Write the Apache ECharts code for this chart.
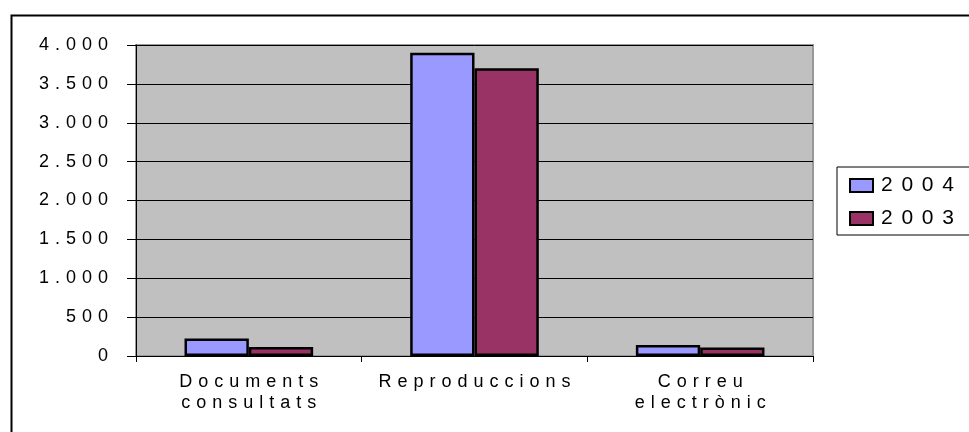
<!DOCTYPE html>
<html>
<head>
<meta charset="utf-8">
<script src="https://cdn.jsdelivr.net/npm/echarts@6/dist/echarts.min.js"></script>
<style>
html,body{margin:0;padding:0;background:#fff;}
#chart{width:969px;height:432px;}
</style>
</head>
<body>
<div id="chart"></div>
<script>
var categories = ['Documents\nconsultats', 'Reproduccions', 'Correu\nelectrònic'];
var seriesNames = ['2004', '2003'];
var values2004 = [225, 3900, 140];
var values2003 = [115, 3700, 110];
var yTickLabels = ['0', '500', '1.000', '1.500', '2.000', '2.500', '3.000', '3.500', '4.000'];

var FONT = '"Liberation Sans", Arial, sans-serif';
function spaced(s, sp) {
  return s.split('\n').map(function (line) { return line.split('').join(sp); }).join('\n');
}
var CAT_SP = '\u2004', TICK_SP = '\u2004', LEG_SP = '\u2005\u2006';

var chart = echarts.init(document.getElementById('chart'), null, {renderer: 'canvas'});
chart.setOption({
  animation: false,
  backgroundColor: '#ffffff',
  textStyle: {fontFamily: FONT, color: '#000'},
  graphic: [{
    type: 'rect', left: 9, top: 13, silent: true,
    shape: {width: 1000, height: 500},
    style: {fill: 'none', stroke: '#000', lineWidth: 2}
  }],
  grid: {
    left: 136, right: 156, top: 45, bottom: 76,
    show: true, backgroundColor: '#C0C0C0', borderColor: '#999999', borderWidth: 2
  },
  legend: {
    data: seriesNames,
    orient: 'vertical',
    left: 837, top: 167,
    padding: [8, 40, 6, 12],
    itemWidth: 23, itemHeight: 13, itemGap: 12,
    borderColor: '#000', borderWidth: 1, backgroundColor: '#fff',
    icon: 'rect',
    formatter: function (n) { return spaced(n, LEG_SP); },
    textStyle: {fontFamily: FONT, fontSize: 21, lineHeight: 20, color: '#000', padding: [0, 0, 0, 3]}
  },
  xAxis: {
    type: 'category',
    data: categories,
    axisLine: {lineStyle: {color: '#000', width: 1}},
    axisTick: {show: true, length: 6, lineStyle: {color: '#000'}},
    axisLabel: {
      interval: 0, margin: 16, fontFamily: FONT, fontSize: 18, lineHeight: 21, color: '#000',
      formatter: function (v) { return spaced(v, CAT_SP); }
    }
  },
  yAxis: {
    type: 'value', min: 0, max: 4000, interval: 500,
    axisLine: {show: true, lineStyle: {color: '#000', width: 1}},
    axisTick: {show: true, length: 9, lineStyle: {color: '#000'}},
    splitLine: {show: true, lineStyle: {color: '#000', width: 1}},
    axisLabel: {
      margin: 28, fontFamily: FONT, fontSize: 18, color: '#000',
      formatter: function (v) { return spaced(yTickLabels[Math.round(v / 500)], TICK_SP); }
    }
  },
  series: [
    {
      name: seriesNames[0], type: 'bar', data: values2004,
      barGap: '0%', barCategoryGap: '43%',
      itemStyle: {color: '#9999FF', borderColor: '#000', borderWidth: 2.5}
    },
    {
      name: seriesNames[1], type: 'bar', data: values2003,
      barGap: '0%', barCategoryGap: '43%',
      itemStyle: {color: '#993366', borderColor: '#000', borderWidth: 2.5}
    }
  ]
});
</script>
</body>
</html>
